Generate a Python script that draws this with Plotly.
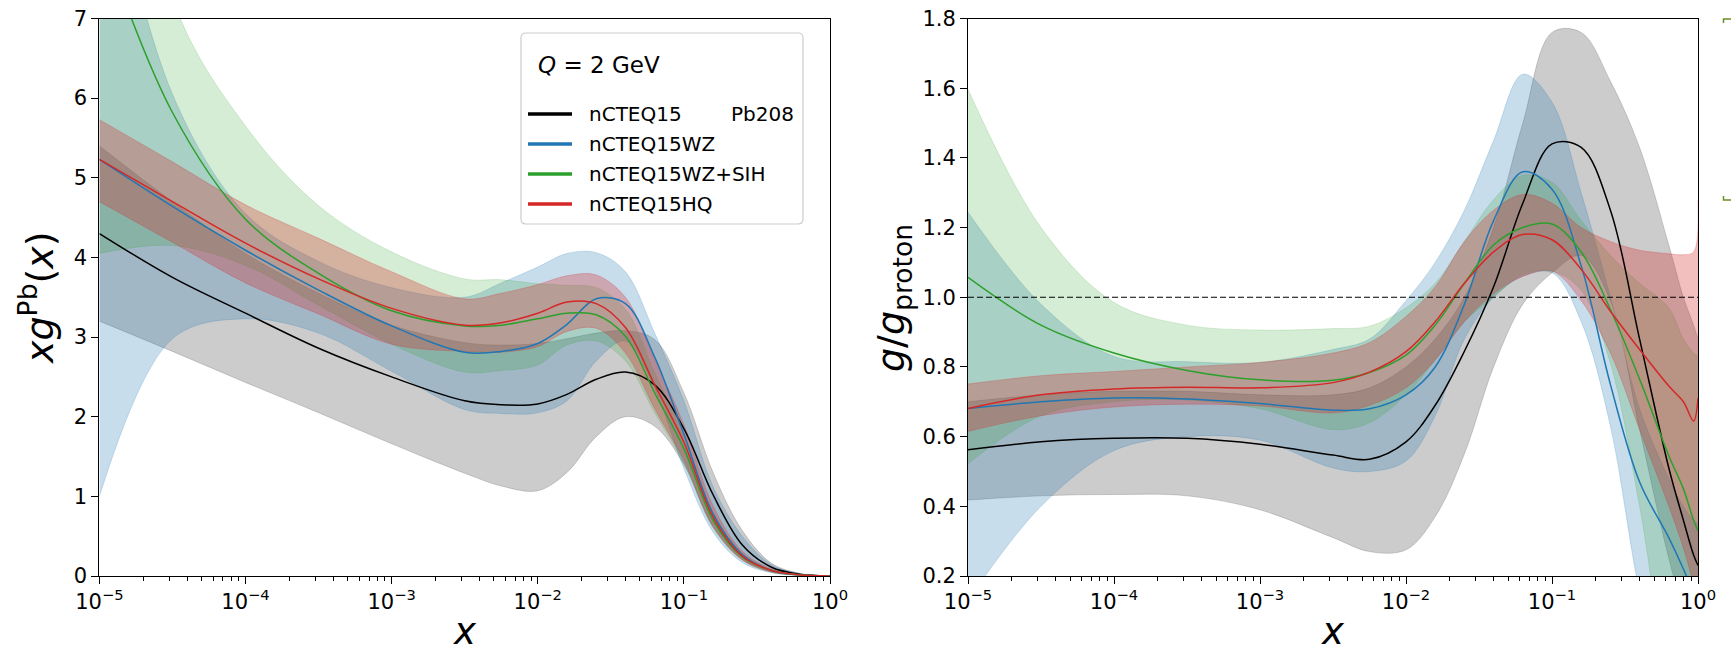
import plotly.graph_objects as go

# ---------------- data ----------------
LOG_X = [-5, -4.5, -4, -3.5, -3, -2.5, -2.25, -2, -1.8, -1.6, -1.4, -1.2, -1.0, -0.8, -0.6, -0.4, -0.2, -0.1, -0.03, 0]
X_TICK_VALS = [1e-5, 1e-4, 1e-3, 1e-2, 1e-1, 1e0]
X_TICK_TEXT = ["10<sup>\u22125</sup>", "10<sup>\u22124</sup>", "10<sup>\u22123</sup>",
               "10<sup>\u22122</sup>", "10<sup>\u22121</sup>", "10<sup>0</sup>"]
SERIES = ["nCTEQ15", "nCTEQ15WZ", "nCTEQ15WZ+SIH", "nCTEQ15HQ"]

# left panel: x g(x) for Pb
XG_NCTEQ15 = [4.30, 3.75, 3.30, 2.86, 2.50, 2.20, 2.15, 2.16, 2.28, 2.47, 2.56, 2.40, 1.85, 1.02, 0.39, 0.11, 0.02, 0.006, 0.001, 0.0]
XG_NCTEQ15_HI = [5.40, 4.70, 4.05, 3.55, 3.15, 2.93, 2.90, 2.92, 2.98, 3.05, 3.08, 2.97, 2.30, 1.30, 0.57, 0.16, 0.03, 0.01, 0.002, 0.0]
XG_NCTEQ15_LO = [3.20, 2.82, 2.43, 2.05, 1.66, 1.29, 1.13, 1.07, 1.30, 1.75, 2.00, 1.88, 1.40, 0.62, 0.21, 0.05, 0.01, 0.003, 0.0, 0.0]

XG_WZ = [5.23, 4.64, 4.09, 3.59, 3.14, 2.81, 2.82, 2.92, 3.16, 3.48, 3.42, 2.75, 1.78, 0.78, 0.27, 0.07, 0.012, 0.004, 0.001, 0.0]
XG_WZ_HI = [9.5, 6.05, 4.55, 3.95, 3.62, 3.50, 3.68, 3.88, 4.05, 4.06, 3.82, 3.05, 2.20, 1.12, 0.50, 0.14, 0.03, 0.01, 0.002, 0.0]
XG_WZ_LO = [1.0, 2.98, 3.23, 3.05, 2.57, 2.09, 2.04, 2.05, 2.20, 2.70, 2.95, 2.35, 1.35, 0.55, 0.17, 0.04, 0.005, 0.001, 0.0, 0.0]

XG_SIH = [8.1, 5.82, 4.48, 3.80, 3.33, 3.14, 3.15, 3.23, 3.30, 3.28, 3.01, 2.30, 1.60, 0.70, 0.24, 0.07, 0.012, 0.004, 0.001, 0.0]
XG_SIH_HI = [12.3, 7.25, 5.65, 4.65, 4.07, 3.73, 3.72, 3.67, 3.65, 3.62, 3.35, 2.55, 1.78, 0.80, 0.28, 0.08, 0.014, 0.005, 0.001, 0.0]
XG_SIH_LO = [4.05, 4.15, 3.90, 3.40, 2.91, 2.56, 2.58, 2.65, 2.90, 2.95, 2.70, 2.05, 1.42, 0.60, 0.20, 0.05, 0.01, 0.003, 0.0, 0.0]

XG_HQ = [5.23, 4.70, 4.18, 3.73, 3.36, 3.15, 3.18, 3.30, 3.44, 3.42, 3.12, 2.40, 1.68, 0.74, 0.25, 0.07, 0.013, 0.004, 0.001, 0.0]
XG_HQ_HI = [5.73, 5.20, 4.66, 4.24, 3.82, 3.48, 3.55, 3.66, 3.77, 3.78, 3.50, 2.72, 1.90, 0.88, 0.31, 0.09, 0.016, 0.005, 0.001, 0.0]
XG_HQ_LO = [4.70, 4.19, 3.68, 3.29, 2.91, 2.82, 2.81, 2.88, 3.07, 3.11, 2.80, 2.10, 1.45, 0.62, 0.20, 0.05, 0.01, 0.003, 0.0, 0.0]

# right panel: ratio g / g_proton
R_NCTEQ15 = [0.562, 0.585, 0.595, 0.595, 0.578, 0.547, 0.535, 0.585, 0.69, 0.845, 1.03, 1.27, 1.44, 1.43, 1.25, 0.88, 0.51, 0.36, 0.26, 0.23]
R_NCTEQ15_HI = [0.70, 0.72, 0.73, 0.73, 0.72, 0.72, 0.74, 0.80, 0.88, 1.0, 1.2, 1.5, 1.76, 1.76, 1.62, 1.43, 1.15, 1.0, 0.92, 0.88]
R_NCTEQ15_LO = [0.418, 0.43, 0.434, 0.43, 0.39, 0.31, 0.27, 0.275, 0.37, 0.55, 0.80, 0.98, 1.07, 1.12, 0.99, 0.62, 0.25, 0.10, 0.0, -0.05]

R_WZ = [0.681, 0.70, 0.711, 0.708, 0.695, 0.676, 0.68, 0.72, 0.80, 0.98, 1.22, 1.36, 1.31, 1.09, 0.75, 0.47, 0.31, 0.22, 0.15, 0.12]
R_WZ_HI = [1.244, 0.98, 0.83, 0.815, 0.813, 0.85, 0.88, 0.99, 1.10, 1.25, 1.45, 1.64, 1.56, 1.30, 1.0, 0.68, 0.48, 0.40, 0.36, 0.35]
R_WZ_LO = [0.13, 0.40, 0.56, 0.60, 0.59, 0.51, 0.50, 0.53, 0.66, 0.88, 1.0, 1.06, 1.07, 0.93, 0.63, 0.15, -0.2, -0.3, -0.3, -0.3]

R_SIH = [1.057, 0.92, 0.84, 0.79, 0.763, 0.762, 0.784, 0.834, 0.92, 1.04, 1.15, 1.20, 1.21, 1.13, 0.965, 0.765, 0.545, 0.45, 0.36, 0.33]
R_SIH_HI = [1.597, 1.20, 0.985, 0.92, 0.906, 0.91, 0.917, 0.97, 1.04, 1.16, 1.28, 1.35, 1.33, 1.22, 1.12, 1.04, 0.97, 0.88, 0.84, 0.83]
R_SIH_LO = [0.522, 0.66, 0.70, 0.705, 0.68, 0.62, 0.64, 0.72, 0.82, 0.93, 1.0, 1.065, 1.075, 1.02, 0.81, 0.40, -0.1, -0.2, -0.25, -0.25]

R_HQ = [0.681, 0.72, 0.737, 0.742, 0.74, 0.755, 0.785, 0.844, 0.93, 1.04, 1.13, 1.18, 1.165, 1.08, 0.96, 0.85, 0.745, 0.70, 0.645, 0.71]
R_HQ_HI = [0.751, 0.775, 0.787, 0.80, 0.813, 0.84, 0.87, 0.945, 1.03, 1.16, 1.25, 1.295, 1.27, 1.20, 1.16, 1.135, 1.125, 1.122, 1.13, 1.28]
R_HQ_LO = [0.615, 0.66, 0.685, 0.693, 0.688, 0.668, 0.69, 0.74, 0.82, 0.93, 1.01, 1.06, 1.075, 0.99, 0.84, 0.62, 0.40, 0.28, 0.18, 0.15]

# ---------------- styling ----------------
W, H = 1731, 655
FONT = "DejaVu Sans"
LINE_COLORS = ["#000000", "#1f77b4", "#2ca02c", "#d62728"]
FILL_COLORS = ["rgba(0,0,0,0.2)", "rgba(31,119,180,0.25)", "rgba(44,160,44,0.2)", "rgba(214,39,40,0.3)"]

X = [10 ** v for v in LOG_X]

LEFT = [(XG_NCTEQ15, XG_NCTEQ15_HI, XG_NCTEQ15_LO), (XG_WZ, XG_WZ_HI, XG_WZ_LO),
        (XG_SIH, XG_SIH_HI, XG_SIH_LO), (XG_HQ, XG_HQ_HI, XG_HQ_LO)]
RIGHT = [(R_NCTEQ15, R_NCTEQ15_HI, R_NCTEQ15_LO), (R_WZ, R_WZ_HI, R_WZ_LO),
         (R_SIH, R_SIH_HI, R_SIH_LO), (R_HQ, R_HQ_HI, R_HQ_LO)]

fig = go.Figure()

for xa, ya, data in (("x", "y", LEFT), ("x2", "y2", RIGHT)):
    for i, (c, hi, lo) in enumerate(data):
        fig.add_trace(go.Scatter(x=X, y=lo, xaxis=xa, yaxis=ya, mode="lines",
                                 line=dict(color=FILL_COLORS[i], width=0.8, shape="spline", smoothing=1.0),
                                 showlegend=False, hoverinfo="skip"))
        fig.add_trace(go.Scatter(x=X, y=hi, xaxis=xa, yaxis=ya, mode="lines", fill="tonexty",
                                 fillcolor=FILL_COLORS[i],
                                 line=dict(color=FILL_COLORS[i], width=0.8, shape="spline", smoothing=1.0),
                                 showlegend=False, hoverinfo="skip"))
    for i, (c, hi, lo) in enumerate(data):
        fig.add_trace(go.Scatter(x=X, y=c, xaxis=xa, yaxis=ya, mode="lines", name=SERIES[i],
                                 line=dict(color=LINE_COLORS[i], width=1.5, shape="spline", smoothing=1.0),
                                 showlegend=False, hoverinfo="skip"))

# geometry in pixels
L0, L1 = 99.4, 830.0
R0, R1 = 968.0, 1698.0
T, B = 18.5, 576.0

MINOR = [m * 10 ** e for e in range(-5, 0) for m in range(2, 10)]

def xaxis_cfg(x0, x1, anchor):
    return dict(type="log", range=[-5, 0], domain=[x0 / W, x1 / W], anchor=anchor, automargin=False,
                tickmode="array", tickvals=X_TICK_VALS, ticktext=X_TICK_TEXT,
                ticks="outside", ticklen=7, tickwidth=1, tickcolor="black",
                showline=True, linecolor="black", linewidth=1, mirror=True,
                showgrid=False, zeroline=False,
                tickfont=dict(family=FONT, size=21, color="black"),
                minor=dict(tickmode="array", tickvals=MINOR, ticks="outside", ticklen=4,
                           tickwidth=0.8, tickcolor="black", showgrid=False))

def yaxis_cfg(rng, dtick, fmt, anchor):
    return dict(range=rng, dtick=dtick, tick0=0, tickformat=fmt, domain=[1 - B / H, 1 - T / H], anchor=anchor,
                automargin=False,
                ticks="outside", ticklen=7, tickwidth=1, tickcolor="black",
                showline=True, linecolor="black", linewidth=1, mirror=True,
                showgrid=False, zeroline=False,
                tickfont=dict(family=FONT, size=21, color="black"))

fig.update_layout(
    template="none",
    width=W, height=H, margin=dict(l=0, r=0, t=0, b=0, pad=0, autoexpand=False),
    paper_bgcolor="white", plot_bgcolor="white",
    xaxis=xaxis_cfg(L0, L1, "y"),
    yaxis=yaxis_cfg([0, 7], 1, "d", "x"),
    xaxis2=xaxis_cfg(R0, R1, "y2"),
    yaxis2=yaxis_cfg([0.2, 1.8], 0.2, ".1f", "x2"),
    showlegend=False,
)

def px(xp):
    return xp / W

def py(yp):
    return 1 - yp / H

shapes = []
annotations = []

# dashed reference line at ratio 1
shapes.append(dict(type="line", xref="x2 domain", yref="y2", x0=0, x1=1, y0=1.0, y1=1.0,
                   line=dict(color="black", width=1.1, dash="6px,3px")))

# legend box (rounded)
bx0, by0, bx1, by1, r = 521, 33, 803, 224, 5
rx, ry = r / W, r / H
path = (f"M {px(bx0)+rx},{py(by0)} L {px(bx1)-rx},{py(by0)} Q {px(bx1)},{py(by0)} {px(bx1)},{py(by0)-ry} "
        f"L {px(bx1)},{py(by1)+ry} Q {px(bx1)},{py(by1)} {px(bx1)-rx},{py(by1)} "
        f"L {px(bx0)+rx},{py(by1)} Q {px(bx0)},{py(by1)} {px(bx0)},{py(by1)+ry} "
        f"L {px(bx0)},{py(by0)-ry} Q {px(bx0)},{py(by0)} {px(bx0)+rx},{py(by0)} Z")
shapes.append(dict(type="path", xref="paper", yref="paper", path=path,
                   fillcolor="rgba(255,255,255,0.8)", line=dict(color="#cccccc", width=1.2)))

annotations.append(dict(xref="paper", yref="paper", x=px(536), y=py(65), xanchor="left", yanchor="middle",
                        text="<i>Q</i> = 2 GeV", showarrow=False,
                        font=dict(family=FONT, size=23, color="black")))
entry_y = [114, 144, 174, 204]
for i, name in enumerate(SERIES):
    shapes.append(dict(type="line", xref="paper", yref="paper", x0=px(528), x1=px(572),
                       y0=py(entry_y[i]), y1=py(entry_y[i]),
                       line=dict(color=LINE_COLORS[i], width=3.5)))
    annotations.append(dict(xref="paper", yref="paper", x=px(587), y=py(entry_y[i]), xanchor="left",
                            yanchor="middle", text=name, showarrow=False,
                            font=dict(family=FONT, size=20, color="black")))
annotations.append(dict(xref="paper", yref="paper", x=px(729), y=py(entry_y[0]), xanchor="left",
                        yanchor="middle", text="Pb208", showarrow=False,
                        font=dict(family=FONT, size=20, color="black")))

# axis titles
annotations.append(dict(xref="paper", yref="paper", x=px(37), y=py(298), xanchor="center", yanchor="middle",
                        textangle=-90, text="<i>xg</i><sup>Pb</sup>(<i>x</i>)", showarrow=False,
                        font=dict(family=FONT, size=38, color="black")))
annotations.append(dict(xref="paper", yref="paper", x=px(893), y=py(298), xanchor="center", yanchor="middle",
                        textangle=-90, text="<i>g</i>/<i>g</i><sub>proton</sub>", showarrow=False,
                        font=dict(family=FONT, size=38, color="black")))
for cx in ((L0 + L1) / 2, (R0 + R1) / 2):
    annotations.append(dict(xref="paper", yref="paper", x=px(cx), y=py(631), xanchor="center",
                            yanchor="middle", text="<i>x</i>", showarrow=False,
                            font=dict(family=FONT, size=37, color="black")))

# small olive bracket marks at the far right edge
olive = "#6b8e23"
shapes.append(dict(type="path", xref="paper", yref="paper",
                   path=f"M {px(1723.5)},{py(23)} L {px(1723.5)},{py(19)} L {px(1731)},{py(19)}",
                   line=dict(color=olive, width=1.5)))
shapes.append(dict(type="path", xref="paper", yref="paper",
                   path=f"M {px(1723.5)},{py(196)} L {px(1723.5)},{py(200)} L {px(1731)},{py(200)}",
                   line=dict(color=olive, width=1.5)))

fig.update_layout(shapes=shapes, annotations=annotations)

fig.write_html("out.html")
